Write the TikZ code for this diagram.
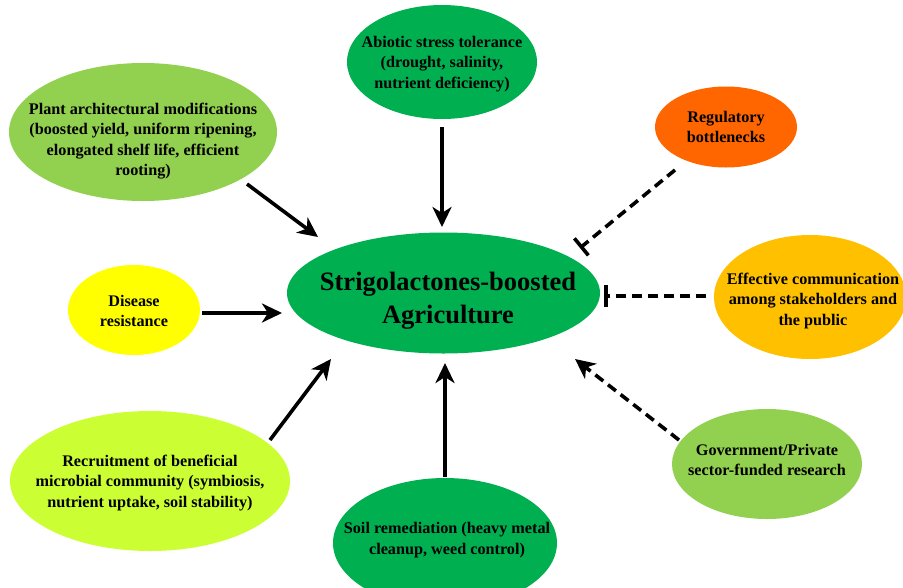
\documentclass[tikz,border=0pt]{standalone}
\usepackage{fontspec}
\setmainfont{Liberation Serif}
\usetikzlibrary{shapes.geometric,arrows.meta}
\definecolor{cgreen}{HTML}{00B050}
\definecolor{lgreen}{HTML}{92D050}
\definecolor{corange}{HTML}{FF6600}
\definecolor{cgold}{HTML}{FFC000}
\definecolor{cyellow}{HTML}{FFFF00}
\definecolor{clime}{HTML}{CCFF33}
\tikzset{
  bubble/.style={ellipse,inner sep=0pt},
  txt/.style={inner sep=0pt,align=center,font=\fontsize{16.2}{20.2}\selectfont\bfseries},
  arr/.style={line width=3.6pt,-{Stealth[length=20pt,width=19pt,inset=6pt]}},
  darr/.style={arr,dash pattern=on 10pt off 6pt},
  inhib/.style={line width=3.6pt,dash pattern=on 10pt off 6pt,-{Bar[width=22pt,line width=3.6pt]}}
}
\begin{document}
\begin{tikzpicture}[x=1pt,y=-1pt]
\useasboundingbox (0,0) rectangle (903,587);
\begin{scope}
\clip (0,0) rectangle (903,587);
\node[bubble,fill=cgreen,minimum width=313pt,minimum height=121pt] (center) at (443.5,293) {};
\node[bubble,fill=cgreen,minimum width=190pt,minimum height=114pt] (abiotic) at (442,62) {};
\node[bubble,fill=lgreen,minimum width=268pt,minimum height=138pt] (plant) at (143,132) {};
\node[bubble,fill=corange,minimum width=142pt,minimum height=81pt] (reg) at (726,127) {};
\node[bubble,fill=cgold,minimum width=192pt,minimum height=124pt] (eff) at (810,297) {};
\node[bubble,fill=cyellow,minimum width=132pt,minimum height=90pt] (dis) at (134,310) {};
\node[bubble,fill=clime,minimum width=280pt,minimum height=140pt] (rec) at (150,481) {};
\node[bubble,fill=cgreen,minimum width=224pt,minimum height=130pt] (soil) at (445,543) {};
\node[bubble,fill=lgreen,minimum width=190pt,minimum height=110pt] (gov) at (767,464) {};
\end{scope}
\node[txt,font=\fontsize{26.5}{33}\selectfont\bfseries] (center-t) at (448,301) {Strigolactones-boosted\\Agriculture};
\node[txt] (abiotic-t) at (442,64) {Abiotic stress tolerance\\(drought, salinity,\\nutrient deficiency)};
\node[txt] (plant-t) at (143,141) {Plant architectural modifications\\(boosted yield, uniform ripening,\\elongated shelf life, efficient\\rooting)};
\node[txt] (reg-t) at (726,127) {Regulatory\\bottlenecks};
\node[txt] (eff-t) at (813,301) {Effective communication\\among stakeholders and\\the public};
\node[txt] (dis-t) at (134,311) {Disease\\resistance};
\node[txt] (rec-t) at (150,483) {Recruitment of beneficial\\microbial community (symbiosis,\\nutrient uptake, soil stability)};
\node[txt] (soil-t) at (447,540) {Soil remediation (heavy metal\\cleanup, weed control)};
\node[txt] (gov-t) at (767,460) {Government/Private\\sector-funded research};
% connector end points
\coordinate (p1) at (247,184); \coordinate (p2) at (318,237);
\coordinate (a1) at (442,127); \coordinate (a2) at (442,227);
\coordinate (r1) at (675,170); \coordinate (r2) at (580,248);
\coordinate (e1) at (706,296); \coordinate (e2) at (604,296);
\coordinate (d1) at (202,313); \coordinate (d2) at (282,313);
\coordinate (m1) at (270,440); \coordinate (m2) at (331,359);
\coordinate (s1) at (445,477); \coordinate (s2) at (445,363);
\coordinate (g1) at (679,440); \coordinate (g2) at (575,359);
\draw[arr] (p1) -- (p2);
\draw[arr] (a1) -- (a2);
\draw[inhib] (r1) -- (r2);
\draw[inhib] (e1) -- (e2);
\draw[arr] (d1) -- (d2);
\draw[arr] (m1) -- (m2);
\draw[arr] (s1) -- (s2);
\draw[darr] (g1) -- (g2);
\end{tikzpicture}
\end{document}
